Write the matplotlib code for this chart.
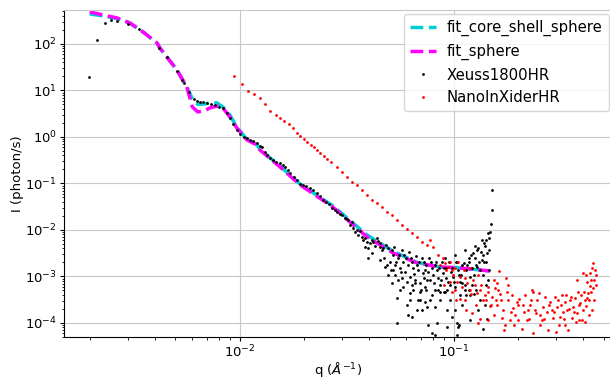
import numpy as np
import matplotlib
matplotlib.use('Agg')
import matplotlib.pyplot as plt

# ---- fit curves ----
fit_q = [0.00199, 0.00229, 0.00267, 0.00306, 0.00353, 0.00410, 0.00423, 0.00508,
         0.00565, 0.00600, 0.00636, 0.00680, 0.00724, 0.00781, 0.00833, 0.00898,
         0.00968, 0.0108, 0.0120, 0.0124, 0.0154, 0.0191, 0.0255, 0.0272, 0.0392,
         0.0519, 0.0671, 0.0860, 0.107, 0.147]
sphere_I = [488, 421, 362, 283, 181, 105, 82, 27.6,
            11.9, 4.4, 3.45, 3.6, 4.2, 4.6, 4.2, 2.69,
            1.56, 0.86, 0.673, 0.525, 0.226, 0.093, 0.038, 0.031, 0.0071,
            0.0032, 0.00195, 0.0016, 0.00152, 0.00131]
core_shell_I = [442, 400, 350, 280, 181, 105, 82, 27.6,
                11.9, 6.6, 5.0, 5.1, 5.4, 5.4, 4.4, 2.97,
                1.62, 0.88, 0.69, 0.54, 0.235, 0.097, 0.040, 0.033, 0.0078,
                0.0035, 0.0020, 0.0016, 0.00152, 0.00131]

# ---- Xeuss1800HR data ----
xeuss_q = [0.00197, 0.00215, 0.00234, 0.0025, 0.00266, 0.0030, 0.00337,
           0.00419, 0.00456, 0.00508, 0.00536, 0.00548, 0.00578, 0.0061, 0.0063,
           0.0065, 0.00672, 0.00701, 0.00732, 0.00764, 0.00798, 0.00833, 0.0087,
           0.00898, 0.00928, 0.00968, 0.0100, 0.0104, 0.0108, 0.0111, 0.0115,
           0.0120, 0.0124, 0.0127, 0.0131, 0.0134, 0.0138, 0.0143, 0.0147, 0.0154,
           0.0159, 0.0162, 0.0168, 0.0171, 0.0179, 0.0185, 0.0191, 0.0197, 0.0203,
           0.0212, 0.0219, 0.0229, 0.0236, 0.0244, 0.0252, 0.0260,
           0.0269, 0.0277, 0.0284, 0.0293, 0.0299, 0.0309, 0.0316, 0.0319, 0.0326,
           0.0333, 0.0337, 0.0344, 0.0351, 0.0355, 0.0363, 0.0371, 0.0375, 0.0383,
           0.0383, 0.0391, 0.0396, 0.0396, 0.0405, 0.0414, 0.0414, 0.0418, 0.0427,
           0.0437, 0.0441, 0.0451, 0.0451, 0.0451, 0.0461, 0.0466, 0.0476, 0.0481,
           0.0486, 0.0492, 0.0492, 0.0502, 0.0513, 0.0513, 0.0519, 0.0519, 0.053,
           0.0536, 0.0541, 0.0541, 0.0547, 0.0547, 0.0553, 0.0559, 0.0571, 0.0571,
           0.0577, 0.0577, 0.059, 0.0596, 0.0603, 0.0609, 0.0609, 0.0616, 0.0622,
           0.0622, 0.0636, 0.0636, 0.0636, 0.0643, 0.0643, 0.0656, 0.0656, 0.0664,
           0.0671, 0.0678, 0.0678, 0.0685, 0.0693, 0.0693, 0.0708, 0.0708, 0.0716,
           0.0723, 0.0731, 0.0731, 0.0739, 0.0739, 0.0747, 0.0755, 0.0755, 0.0764,
           0.0772, 0.0789, 0.0789, 0.0789, 0.0797, 0.0814, 0.0814, 0.0814, 0.0824,
           0.0832, 0.0841, 0.0841, 0.0851, 0.086, 0.086, 0.0879, 0.0888, 0.0898,
           0.0907, 0.0918, 0.0918, 0.0927, 0.0927, 0.0937, 0.0948, 0.0958, 0.0979,
           0.0979, 0.099, 0.101, 0.101, 0.102, 0.103, 0.103, 0.104, 0.104, 0.106,
           0.106, 0.107, 0.109, 0.109, 0.109, 0.111, 0.113, 0.114, 0.114, 0.117,
           0.117, 0.118, 0.119, 0.119, 0.122, 0.122, 0.123, 0.124, 0.126, 0.127,
           0.128, 0.13, 0.13, 0.131, 0.132, 0.133, 0.135, 0.136, 0.136, 0.138,
           0.138, 0.139, 0.139, 0.141, 0.141, 0.142, 0.142, 0.144, 0.144, 0.145,
           0.145, 0.147, 0.149, 0.150, 0.151,
           0.0471, 0.0508, 0.0524, 0.0565, 0.0584, 0.0603, 0.0629, 0.0649, 0.0671,
           0.0701, 0.0723, 0.0747, 0.078, 0.0806, 0.0832, 0.0869, 0.0898, 0.0927,
           0.0969, 0.100, 0.103, 0.108, 0.112, 0.115, 0.120, 0.124, 0.128, 0.132,
           0.136, 0.141, 0.145, 0.135, 0.127, 0.119, 0.107, 0.0958, 0.086, 0.0772,
           0.0693, 0.0622, 0.0559, 0.053, 0.0731, 0.0814, 0.0907, 0.101, 0.113, 0.126]
xeuss_I = [19.5, 122, 283, 328, 312, 269, 210,
           82, 52.6, 26.3, 16.8, 14.5, 9.3, 6.6, 5.9,
           5.7, 5.5, 5.4, 5.1, 4.9, 4.4, 4.2, 3.3,
           2.56, 1.9, 1.41, 1.16, 1.0, 0.95, 0.86, 0.82,
           0.74, 0.64, 0.61, 0.476, 0.41, 0.354, 0.32, 0.29, 0.276,
           0.25, 0.226, 0.195, 0.168, 0.138, 0.119, 0.098, 0.093, 0.088,
           0.08, 0.0725, 0.0625, 0.054, 0.0442, 0.040, 0.0365,
           0.0297, 0.0269, 0.0244, 0.0221, 0.0210, 0.0181, 0.0172, 0.0164, 0.0128,
           0.0149, 0.0110, 0.00906, 0.0100, 0.00781, 0.00952, 0.00707, 0.0061, 0.00431,
           0.00673, 0.00553, 0.0041, 0.0025, 0.00526, 0.0061, 0.00321, 0.00553, 0.00453,
           0.00673, 0.00581, 0.00526, 0.00431, 0.00226, 0.00372, 0.0041, 0.0016, 0.00476,
           0.00177, 0.0041, 0.00108, 0.00205, 0.00372, 0.000725, 0.0029, 0.00138, 0.00177,
           0.00205, 0.000345, 0.0001, 0.0025, 0.000841, 0.0029, 0.00152, 0.00372, 0.000929,
           0.00205, 0.000595, 0.00125, 0.0025, 0.000244, 0.00177, 0.000149, 0.00337, 0.000976,
           0.000442, 0.00205, 0.000135, 0.000657, 0.00152, 0.000513, 0.000841, 0.000725, 0.00276,
           0.000191, 0.00138, 0.000313, 0.00205, 0.000725, 0.000313, 0.0025, 0.000191, 0.00119,
           0.000929, 0.000595, 0.000284, 0.00177, 0.000513, 0.000221, 0.00125, 0.0000906, 0.0025,
           0.000841, 0.00152, 0.0000610, 0.0004, 0.00108, 0.000513, 0.000221, 0.0000550, 0.00205,
           0.0001, 0.000929, 0.000513, 0.00152, 0.000657, 0.000313, 0.00205, 0.00119, 0.000465,
           0.000465, 0.00152, 0.000929, 0.000191, 0.000082, 0.000762, 0.00205, 0.000313, 0.00152,
           0.000135, 0.000976, 0.000595, 0.000191, 0.00205, 0.0001, 0.0000550, 0.00138, 0.000082,
           0.00108, 0.00009, 0.000762, 0.00177, 0.000725, 0.000244, 0.00195, 0.000513, 0.00138,
           0.0004, 0.0025, 0.000513, 0.00205, 0.000976, 0.000116, 0.00152, 0.000657, 0.00321,
           0.00042, 0.0025, 0.000513, 0.0016, 0.0041, 0.000191, 0.00205, 0.000313, 0.00337,
           0.00226, 0.00108, 0.000074, 0.00526, 0.00205, 0.00453, 0.000244, 0.0061, 0.000657,
           0.00321, 0.000122, 0.00862, 0.000841, 0.00673, 0.00138, 0.00906, 0.0134, 0.0269, 0.0725,
           0.0025, 0.00138, 0.00431, 0.00125, 0.0029, 0.000762, 0.0025, 0.00113, 0.00177,
           0.000513, 0.00205, 0.000841, 0.00205, 0.000725, 0.00138, 0.000841, 0.00152, 0.000513,
           0.00125, 0.000762, 0.00205, 0.00108, 0.000657, 0.00177, 0.0029, 0.00108, 0.00372, 0.00138,
           0.0029, 0.00205, 0.00372, 0.0061, 0.00177, 0.0004, 0.0004, 0.000657, 0.000465, 0.000313,
           0.000465, 0.000313, 0.000513, 0.00108, 0.00138, 0.00177, 0.0025, 0.0029, 0.00372, 0.00453]

# ---- NanoInXiderHR data ----
nano_q = [0.00937, 0.0102, 0.0109, 0.0116, 0.0124, 0.0131, 0.0138, 0.0147, 0.0154,
          0.0161, 0.0170, 0.0177, 0.0184, 0.0191, 0.0199, 0.0206, 0.0214, 0.0221,
          0.0229, 0.0236, 0.0246, 0.0254, 0.0266, 0.0284, 0.0299, 0.0316, 0.0333,
          0.0351, 0.0371, 0.0391, 0.0414, 0.0437, 0.0461, 0.0486, 0.0513, 0.0541,
          0.0571, 0.0603, 0.0636, 0.0671, 0.0708, 0.0747, 0.0772, 0.0797, 0.0841,
          0.086, 0.0888, 0.0907, 0.0918, 0.0937, 0.0958, 0.0958, 0.0979, 0.099,
          0.101, 0.101, 0.103, 0.104, 0.107, 0.107, 0.109, 0.111, 0.113, 0.113,
          0.115, 0.119, 0.119, 0.122, 0.123, 0.126, 0.128, 0.13, 0.132, 0.132,
          0.136, 0.139, 0.144, 0.144, 0.144, 0.147, 0.150, 0.153, 0.155, 0.157,
          0.158, 0.160, 0.162, 0.164, 0.168, 0.169, 0.171, 0.173, 0.175, 0.179,
          0.179, 0.183, 0.187, 0.189, 0.193, 0.197, 0.199, 0.199, 0.207, 0.21,
          0.214, 0.219, 0.221, 0.227, 0.232, 0.234, 0.234, 0.239, 0.245, 0.252,
          0.252, 0.258, 0.26, 0.266, 0.272, 0.275, 0.281, 0.287, 0.29, 0.296,
          0.299, 0.303, 0.306, 0.313, 0.32, 0.323, 0.33, 0.33, 0.334, 0.337,
          0.341, 0.349, 0.357, 0.361, 0.368, 0.376, 0.376, 0.38, 0.385, 0.388,
          0.392, 0.397, 0.401, 0.401, 0.409, 0.409, 0.414, 0.418, 0.418, 0.423,
          0.428, 0.432, 0.432, 0.437, 0.441, 0.441, 0.446, 0.446, 0.451, 0.456,
          0.158, 0.166, 0.177, 0.185, 0.191, 0.202, 0.212, 0.224, 0.229, 0.242,
          0.25, 0.263, 0.278, 0.293, 0.31, 0.316, 0.327, 0.345, 0.353, 0.364,
          0.372, 0.385, 0.405, 0.428, 0.451, 0.461, 0.461, 0.437, 0.414, 0.102,
          0.114, 0.12, 0.127, 0.133, 0.141, 0.149, 0.153, 0.0898, 0.0979, 0.13]
nano_I = [20.5, 13.8, 9.8, 8.4, 6.9, 5.1, 3.6, 2.98, 2.56,
          2.2, 1.9, 1.56, 1.22, 1.05, 0.9, 0.78, 0.672, 0.609,
          0.525, 0.453, 0.39, 0.336, 0.29, 0.226, 0.177, 0.138, 0.108,
          0.093, 0.0725, 0.0566, 0.0442, 0.0381, 0.0313, 0.0244, 0.021, 0.0164,
          0.0128, 0.0105, 0.00862, 0.00707, 0.00553, 0.00476, 0.0061, 0.00431, 0.0029,
          0.00177, 0.0025, 0.00195, 0.00138, 0.0016, 0.00205, 0.000762, 0.00138, 0.00108,
          0.00152, 0.000513, 0.000762, 0.00205, 0.000976, 0.000328, 0.000595, 0.00138, 0.000929, 0.000313,
          0.000725, 0.000513, 0.00152, 0.000165, 0.000841, 0.000657, 0.000442, 0.00108, 0.000513, 0.000122,
          0.000313, 0.0004, 0.000595, 0.000116, 0.000465, 0.000233, 0.000363, 0.000149, 0.000566, 0.000313,
          0.000244, 0.000513, 0.00131, 0.00042, 0.000129, 0.000191, 0.0000707, 0.0000906, 0.000929, 0.000313,
          0.000657, 0.000116, 0.0004, 0.000211, 0.000149, 0.000284, 0.000116, 0.000244, 0.000074, 0.000244,
          0.0004, 0.000116, 0.000191, 0.000244, 0.000513, 0.000465, 0.000061, 0.000191, 0.000313, 0.000149,
          0.0000910, 0.000116, 0.000221, 0.000363, 0.000173, 0.0000707, 0.000284, 0.000191, 0.000129, 0.000363,
          0.000064, 0.000221, 0.000313, 0.000135, 0.0004, 0.000173, 0.000284, 0.0000910, 0.0004, 0.000191,
          0.0000707, 0.000313, 0.000129, 0.000221, 0.000345, 0.000165, 0.000841, 0.000465, 0.000116, 0.00027,
          0.0004, 0.000116, 0.000191, 0.00119, 0.000313, 0.000105, 0.000233, 0.000762, 0.000345, 0.000442,
          0.000313, 0.00119, 0.000625, 0.000465, 0.000191, 0.00152, 0.00195, 0.000566, 0.000841, 0.00138,
          0.000725, 0.000313, 0.000465, 0.000173, 0.0000906, 0.000328, 0.000173, 0.000122, 0.000313, 0.000165,
          0.000442, 0.000122, 0.000244, 0.000173, 0.0000906, 0.000244, 0.000122, 0.0002, 0.000363, 0.000173,
          0.000105, 0.000244, 0.000465, 0.000149, 0.000313, 0.000657, 0.00108, 0.000841, 0.00108, 0.000313,
          0.000191, 0.00042, 0.000244, 0.000657, 0.000313, 0.000244, 0.000841, 0.000657, 0.000465, 0.0001]

fig = plt.figure(figsize=(6.1, 3.79), dpi=100)
ax = fig.add_axes([0.105, 0.111, 0.9, 0.863])

ax.plot(fit_q, core_shell_I, ls='--', color='darkturquoise', lw=2.5, label='fit_core_shell_sphere', zorder=2)
ax.plot(fit_q, sphere_I, ls='--', color='magenta', lw=2.5, label='fit_sphere', zorder=2.1)
ax.plot(xeuss_q, xeuss_I, 'o', color='black', ms=2.0, mew=0, label='Xeuss1800HR', zorder=3)
ax.plot(nano_q, nano_I, 'o', color='red', ms=2.0, mew=0, label='NanoInXiderHR', zorder=3)

ax.set_xscale('log')
ax.set_yscale('log')
ax.set_xlim(0.00151, 0.553)
ax.set_ylim(5e-5, 540)
ax.grid(True, which='major', color='#c8c8c8', lw=0.8)
ax.set_axisbelow(True)
for s in ('top', 'right'):
    ax.spines[s].set_color('#c8c8c8')
ax.tick_params(which='major', labelsize=9.5, length=3, pad=2)
ax.tick_params(which='minor', length=1.8)
ax.set_xlabel(r'q ($\AA^{-1}$)', fontsize=9.5, labelpad=0)
ax.set_ylabel('I (photon/s)', fontsize=9.5, labelpad=1)
ax.legend(loc='upper right', fontsize=10.7, borderaxespad=0.3,
          handlelength=1.8, handletextpad=0.7)

fig.savefig('out.png', dpi=100)
